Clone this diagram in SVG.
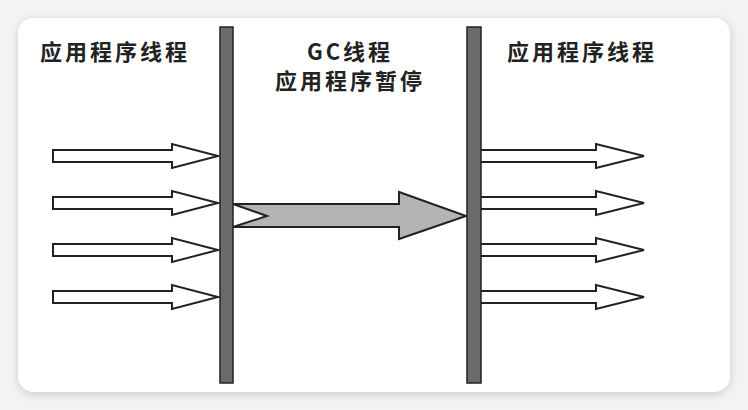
<svg xmlns="http://www.w3.org/2000/svg" width="748" height="410" viewBox="0 0 748 410">
<defs>
<filter id="sh" x="-10%" y="-10%" width="120%" height="120%">
<feGaussianBlur in="SourceAlpha" stdDeviation="5"/>
<feOffset dx="0" dy="2" result="b"/>
<feComponentTransfer><feFuncA type="linear" slope="0.18"/></feComponentTransfer>
<feMerge><feMergeNode/><feMergeNode in="SourceGraphic"/></feMerge>
</filter>
</defs>
<style>
.t{font-family:"Noto Sans CJK SC","Noto Sans",sans-serif;font-size:22px;font-weight:700;fill:#222;letter-spacing:3px}
.bar{fill:#6b6b6b;stroke:#222;stroke-width:1.5}
.wa{fill:#fff;stroke:#222;stroke-width:2;stroke-linejoin:miter}
.ga{fill:#b4b4b4;stroke:#222;stroke-width:2}
</style>
<rect width="748" height="410" fill="#f3f3f3"/>
<rect x="18" y="18" width="712" height="374" rx="16" fill="#fff" filter="url(#sh)"/>
<g id="label-left"><text class="t" x="40" y="60">应用程序线程</text></g>
<g id="label-gc"><text class="t" x="350" y="60" text-anchor="middle">GC线程</text><text class="t" x="350" y="89" text-anchor="middle">应用程序暂停</text></g>
<g id="label-right"><text class="t" x="507" y="60">应用程序线程</text></g>
<g id="connectors">
<path class="wa" d="M53,150 H172 V144 L218,156 L172,168 V162 H53 Z"/>
<path class="wa" d="M53,197 H172 V191 L218,203 L172,215 V209 H53 Z"/>
<path class="wa" d="M53,244 H172 V238 L218,250 L172,262 V256 H53 Z"/>
<path class="wa" d="M53,291 H172 V285 L218,297 L172,309 V303 H53 Z"/>
<path class="wa" d="M481,150 H596 V144 L644,156 L596,168 V162 H481"/>
<path class="wa" d="M481,197 H596 V191 L644,203 L596,215 V209 H481"/>
<path class="wa" d="M481,244 H596 V238 L644,250 L596,262 V256 H481"/>
<path class="wa" d="M481,291 H596 V285 L644,297 L596,309 V303 H481"/>
<path class="ga" d="M233,204 H399 V192 L466,216 L399,239 V227 H233 L267,216 Z"/>
</g>
<g id="bar-left"><rect class="bar" x="220" y="27" width="13" height="356"/></g>
<g id="bar-right"><rect class="bar" x="467" y="27" width="14" height="356"/></g>
</svg>
